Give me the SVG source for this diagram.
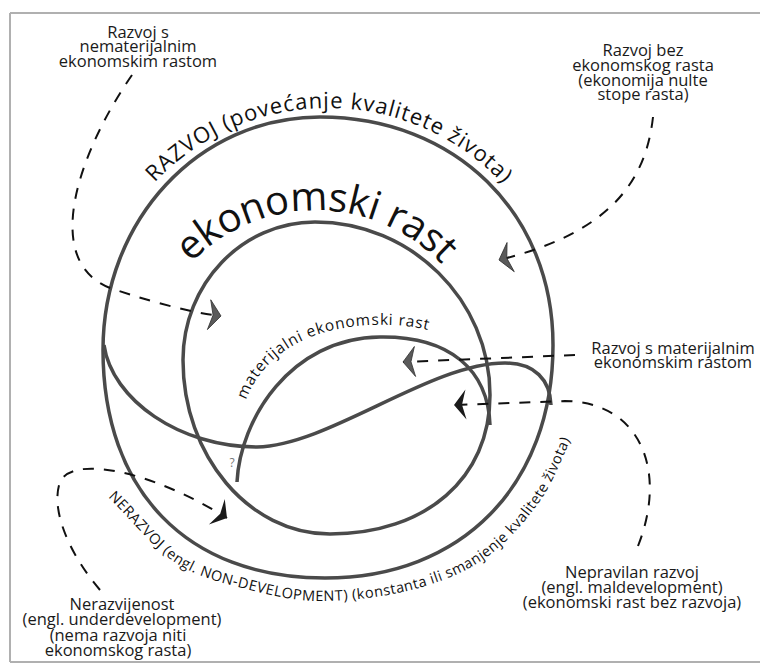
<svg xmlns="http://www.w3.org/2000/svg" width="760" height="665" viewBox="0 0 760 665">
<style>
.c{fill:none;stroke:#4a4a4a;stroke-width:3.5}
.d{fill:none;stroke:#111;stroke-width:2;stroke-dasharray:11 10}
.l{font-family:"Open Sans","Noto Sans",sans-serif;font-size:16.5px;fill:#1a1a1a;text-anchor:middle}
.t{font-family:"Open Sans","Noto Sans",sans-serif;fill:#111}
.f{fill:none;stroke:#b0b0b0;stroke-width:2}
</style>
<defs>
<marker id="ahg" viewBox="-14 -17 16 34" refX="0" refY="0" markerWidth="16" markerHeight="34" markerUnits="userSpaceOnUse" orient="auto"><path d="M0,0 L-12,-15 L-8,0 L-12,15 Z" fill="#5a5a5a" stroke="#333" stroke-width="0.8"/></marker>
<marker id="ahk" viewBox="-14 -17 16 34" refX="0" refY="0" markerWidth="16" markerHeight="34" markerUnits="userSpaceOnUse" orient="auto"><path d="M0,0 L-12,-15 L-8,0 L-12,15 Z" fill="#1a1a1a"/></marker>
<path id="pRaz" d="M154.6,182.5 A239,239 0 0 1 504.5,185.8"/>
<path id="pEko" d="M191,263 A174,174 0 0 1 452.3,276.5"/>
<path id="pMat" d="M246,400 C262,358 303,328 372,325 C400,324 420,327 442,334"/>
<path id="pNer" d="M108,497 C130.7,519 152.3,547.5 176,563 C199.7,578.5 225.7,583.7 250,590 C274.3,596.3 295.2,601 322,601 C348.8,601 384,597 411,590 C438,583 462.5,573.8 484,559 C505.5,544.2 524.8,522.5 540,501 C555.2,479.5 563.3,453.7 575,430"/>
</defs>
<g id="frame">
<path class="f" d="M10,13 H760 M10,13 V662 M10,662 H760"/>
</g>
<g id="razvoj">
<path class="c" d="M320,117 C455,117 553,213 553,345 C553,485 462,578 325,578 C187,578 103,491 103,350 C103,220 198.5,117 320,117 Z"/>
<text class="t" font-size="22"><textPath href="#pRaz" textLength="390" lengthAdjust="spacing">RAZVOJ (povećanje kvalitete života)</textPath></text>
</g>
<g id="ekonomski-rast">
<path class="c" d="M315,222 C411,222 490,300 490,395 C490,478 426,534 330,534 C249,534 183,456 183,360 C183,284 242,222 315,222 Z"/>
<text class="t" font-size="40"><textPath href="#pEko" textLength="280" lengthAdjust="spacing">ekonomski rast</textPath></text>
</g>
<g id="materijalni">
<path class="c" d="M237,482 C240,420 290,338 380,337 C450,336 488,370 490,425"/>
<text class="t" font-size="15.5"><textPath href="#pMat" textLength="212" lengthAdjust="spacing">materijalni ekonomski rast</textPath></text>
</g>
<g id="nerazvoj">
<path class="c" d="M104,345 C112,400 180,447 257,447 C330,445 430,363 505,363 C535,363 550,380 551,405"/>
<text class="t" font-size="14.5"><textPath href="#pNer" textLength="566" lengthAdjust="spacing">NERAZVOJ (engl. NON-DEVELOPMENT) (konstanta ili smanjenje kvalitete života)</textPath></text>
<text x="232" y="467" font-family="Open Sans, sans-serif" font-size="12" fill="#777" text-anchor="middle">?</text>
</g>
<g id="lbl-nematerijalni">
<text class="l" x="138"><tspan x="138" y="37.5">Razvoj s</tspan><tspan x="138" y="52">nematerijalnim</tspan><tspan x="138" y="66.5">ekonomskim rastom</tspan></text>
</g>
<g id="lbl-bez-rasta">
<text class="l" x="643"><tspan x="643" y="56">Razvoj bez</tspan><tspan x="643" y="71">ekonomskog rasta</tspan><tspan x="643" y="85.5">(ekonomija nulte</tspan><tspan x="643" y="100">stope rasta)</tspan></text>
</g>
<g id="lbl-materijalni">
<text class="l" x="673"><tspan x="673" y="353.5">Razvoj s materijalnim</tspan><tspan x="673" y="368">ekonomskim rastom</tspan></text>
</g>
<g id="lbl-nepravilan">
<text class="l" x="632"><tspan x="632" y="578">Nepravilan razvoj</tspan><tspan x="632" y="593">(engl. maldevelopment)</tspan><tspan x="632" y="608">(ekonomski rast bez razvoja)</tspan></text>
</g>
<g id="lbl-nerazvijenost">
<text class="l" x="122"><tspan x="122" y="609.5">Nerazvijenost</tspan><tspan x="122" y="625">(engl. underdevelopment)</tspan><tspan x="118" y="640.5">(nema razvoja niti</tspan><tspan x="118" y="656">ekonomskog rasta)</tspan></text>
</g>
<g id="connectors">
<path class="d" d="M132,75 C80,150 40,260 110,288 C140,298 185,312 221,316" marker-end="url(#ahg)"/>
<path class="d" d="M653,117 C645,190 600,235 499,260" marker-end="url(#ahg)"/>
<path class="d" d="M575,355 L403,362" marker-end="url(#ahg)"/>
<path class="d" d="M638,546 C668,470 640,402 565,401 L454,405" marker-end="url(#ahk)"/>
<path class="d" d="M100,590 C70,555 50,510 60,482 C72,455 150,470 227,518" marker-end="url(#ahk)"/>
</g>
</svg>
